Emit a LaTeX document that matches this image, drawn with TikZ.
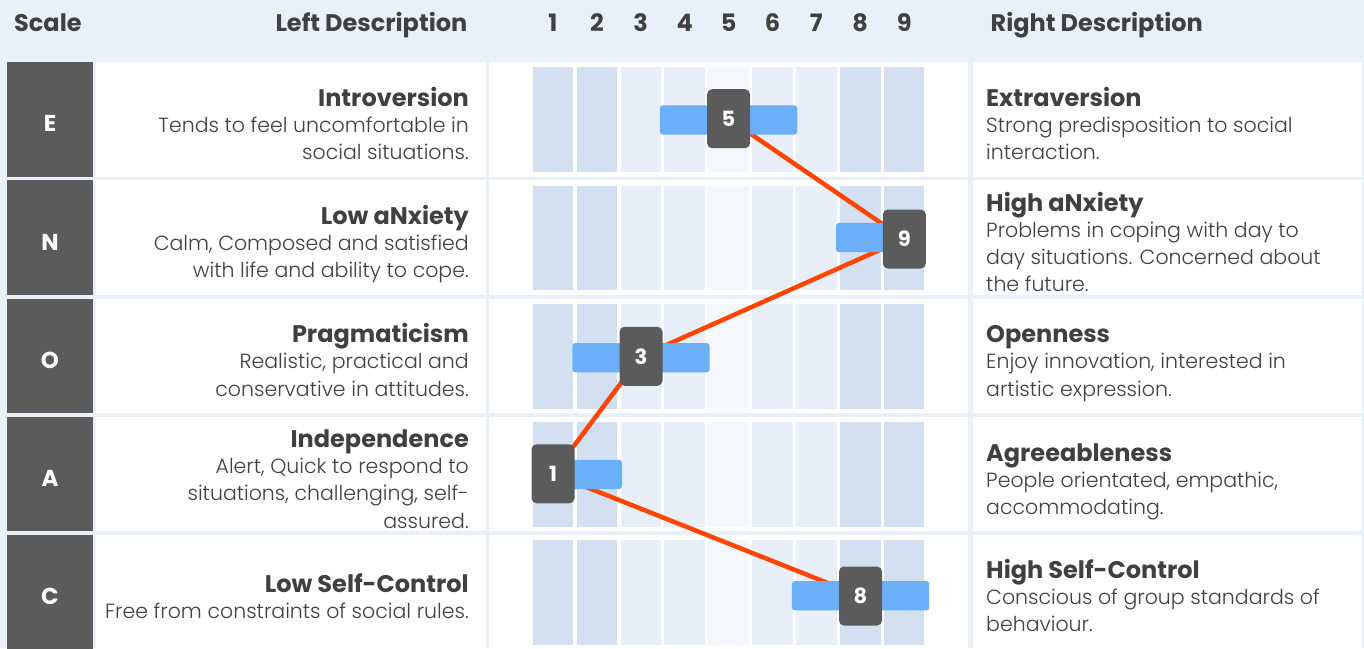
\documentclass[tikz,border=0pt]{standalone}
\usepackage{fontspec}
\setmainfont{Poppins}
\newfontfamily\popb{Poppins}[UprightFont=* Bold]
\newfontfamily\popl{Poppins}[UprightFont=* Light]
\definecolor{bgblue}{HTML}{E9F0F8}
\definecolor{coldark}{HTML}{D3E0F1}
\definecolor{colmid}{HTML}{E8EFF8}
\definecolor{collight}{HTML}{F4F8FD}
\definecolor{barblue}{HTML}{6AAFF7}
\definecolor{darkbox}{HTML}{5B5B5B}
\definecolor{linered}{HTML}{FF4500}
\definecolor{textgray}{HTML}{404040}
\pgfdeclarelayer{bg}
\pgfdeclarelayer{lines}
\pgfsetlayers{bg,lines,main}
\tikzset{
  x=1pt, y=-1pt,
  headtext/.style={text=textgray, inner sep=0pt, font=\popb\fontsize{24}{28}\selectfont},
  titletext/.style={text=textgray, inner sep=0pt, font=\popb\fontsize{24}{28}\selectfont},
  desctext/.style={text=textgray, inner sep=0pt, font=\popl\fontsize{20.5}{27.3}\selectfont},
  lettertext/.style={text=white, inner sep=0pt, font=\popb\fontsize{23}{26}\selectfont},
  scorebox/.style={fill=darkbox, rounded corners=5pt, minimum width=43pt, minimum height=59pt, inner sep=0pt, text=white, font=\popb\fontsize{21}{24}\selectfont},
  scorebar/.style={fill=barblue, rounded corners=3pt, minimum height=29.3pt, inner sep=0pt},
  profile/.style={draw=linered, line width=4.5pt, line join=round},
}
\begin{document}
\begin{tikzpicture}
\useasboundingbox (0,0) rectangle (1364,648);
\begin{pgfonlayer}{bg}
\fill[bgblue] (0,0) rectangle (1364,648);
\foreach \i in {0,...,4}{
  \pgfmathsetmacro{\T}{62+118.25*\i}
  \pgfmathsetmacro{\B}{\T+114.5}
  \fill[darkbox] (7,\T) rectangle (93,\B);
  \fill[white] (96,\T) rectangle (486,\B);
  \fill[white] (489,\T) rectangle (968,\B);
  \fill[white] (973,\T) rectangle (1361.5,\B);
  \foreach \k/\c in {1/coldark,2/coldark,3/colmid,4/colmid,5/collight,6/colmid,7/colmid,8/coldark,9/coldark}{
    \pgfmathsetmacro{\L}{532.7+43.9*(\k-1)}
    \fill[\c] (\L,\T+5.3) rectangle (\L+40.5,\B-4.5);
  }
}
\end{pgfonlayer}
% header
\node[headtext, anchor=base west] (hscale) at (14,31.6) {Scale};
\node[headtext, anchor=base east] (hleft) at (467.5,31.6) {Left Description};
\foreach \k in {1,...,9}{
  \node[headtext, anchor=base] (h\k) at ({552.95+43.9*(\k-1)},31.6) {\k};
}
\node[headtext, anchor=base west] (hright) at (990.5,31.6) {Right Description};
% scale letters
\node[lettertext] (sE) at (50,123.75) {E};
\node[lettertext] (sN) at (50,242) {N};
\node[lettertext] (sO) at (50,360.25) {O};
\node[lettertext] (sA) at (50,478.5) {A};
\node[lettertext] (sC) at (50,596) {C};
% left descriptions (desc anchor = baseline of last line)
\node[titletext, anchor=base east] (ltE) at (469,106.25) {Introversion};
\node[desctext, anchor=base east, align=right] (ldE) at (469,159.55) {Tends to feel uncomfortable in\\social situations.};
\node[titletext, anchor=base east] (ltN) at (469,224.5) {Low aNxiety};
\node[desctext, anchor=base east, align=right] (ldN) at (469,277.8) {Calm, Composed and satisfied\\with life and ability to cope.};
\node[titletext, anchor=base east] (ltO) at (469,342.75) {Pragmaticism};
\node[desctext, anchor=base east, align=right] (ldO) at (469,396.05) {Realistic, practical and\\conservative in attitudes.};
\node[titletext, anchor=base east] (ltA) at (469,447.5) {Independence};
\node[desctext, anchor=base east, align=right] (ldA) at (469,528.1) {Alert, Quick to respond to\\situations, challenging, self-\\assured.};
\node[titletext, anchor=base east] (ltC) at (469,592) {Low Self-Control};
\node[desctext, anchor=base east, align=right] (ldC) at (469,618) {Free from constraints of social rules.};
% right descriptions
\node[titletext, anchor=base west] (rtE) at (986,106.25) {Extraversion};
\node[desctext, anchor=base west, align=left] (rdE) at (986,159.55) {Strong predisposition to social\\interaction.};
\node[titletext, anchor=base west] (rtN) at (986,211) {High aNxiety};
\node[desctext, anchor=base west, align=left] (rdN) at (986,291.6) {Problems in coping with day to\\day situations. Concerned about\\the future.};
\node[titletext, anchor=base west] (rtO) at (986,342.75) {Openness};
\node[desctext, anchor=base west, align=left] (rdO) at (986,396.05) {Enjoy innovation, interested in\\artistic expression.};
\node[titletext, anchor=base west] (rtA) at (986,461) {Agreeableness};
\node[desctext, anchor=base west, align=left] (rdA) at (986,514.3) {People orientated, empathic,\\accommodating.};
\node[titletext, anchor=base west] (rtC) at (986,578.5) {High Self-Control};
\node[desctext, anchor=base west, align=left] (rdC) at (986,631.8) {Conscious of group standards of\\behaviour.};
% bars
\node[scorebar, minimum width=137.4pt] (barE) at (728.55,120) {};
\node[scorebar, minimum width=69pt] (barN) at (870.5,237.5) {};
\node[scorebar, minimum width=137.4pt] (barO) at (641,357.7) {};
\node[scorebar, minimum width=69pt] (barA) at (587.5,474.5) {};
\node[scorebar, minimum width=137.4pt] (barC) at (860.5,595.7) {};
% score boxes
\node[scorebox] (bE) at (728.55,118.7) {5};
\node[scorebox] (bN) at (904.3,239) {9};
\node[scorebox] (bO) at (641,356.3) {3};
\node[scorebox] (bA) at (553,473.8) {1};
\node[scorebox] (bC) at (860.5,596) {8};
% profile line
\begin{pgfonlayer}{lines}
\draw[profile] (bE.center) -- (bN.center) -- (bO.center) -- (bA.center) -- (bC.center);
\end{pgfonlayer}
\end{tikzpicture}
\end{document}
